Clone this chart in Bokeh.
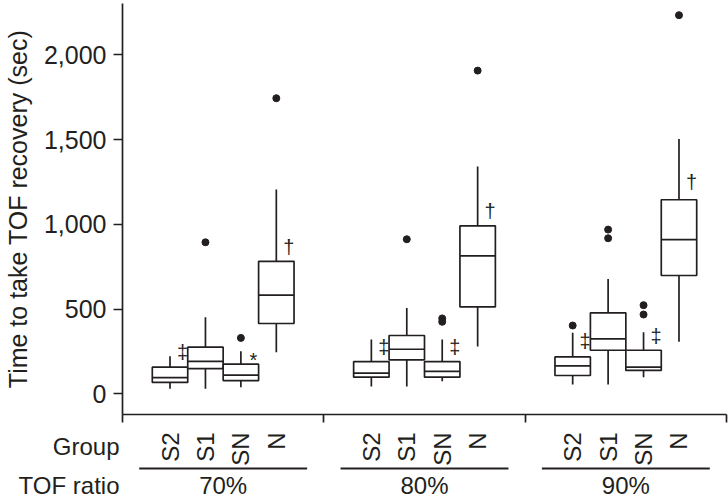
import math
from bokeh.plotting import figure
from bokeh.models import Range1d, FixedTicker, NumeralTickFormatter, ColumnDataSource
from bokeh.layouts import column
from bokeh.embed import file_html
from bokeh.resources import INLINE
from bokeh.core.properties import value

# ---------------- data ----------------
ratios = ["70%", "80%", "90%"]
groups = ["S2", "S1", "SN", "N"]

lower_whisker = [[30, 30, 39, 245], [43, 43, 74, 279], [55, 55, 98, 307]]
q1 = [[67, 149, 78, 415], [98, 200, 98, 513], [108, 257, 138, 698]]
medians = [[96, 191, 110, 582], [122, 263, 132, 814], [165, 324, 157, 910]]
q3 = [[157, 275, 175, 782], [190, 344, 190, 991], [218, 478, 257, 1145]]
upper_whisker = [[222, 452, 251, 1205], [320, 507, 320, 1341], [360, 678, 363, 1504]]
outliers = [[[], [894], [330], [1744]],
            [[], [912], [445, 425], [1907]],
            [[403], [969, 918], [523, 468], [2234]]]
sig_marks = [["‡", "", "*", "†"], ["‡", "", "‡", "†"], ["‡", "", "‡", "†"]]
sig_y = [[245, 0, 202, 869], [275, 0, 275, 1081], [314, 0, 344, 1248]]

y_ticks = [0, 500, 1000, 1500, 2000]
y_title = "Time to take TOF recovery (sec)"
row_titles = ["Group", "TOF ratio"]

# ---------------- layout constants ----------------
INK = "#231f20"
FONT = "Liberation Sans"
BOX_W = 0.176
W = 728
MAIN_H = 426
BOT_H = 74

# ---------------- derived columns ----------------
xs, lw, b1, md, b3, uw = [], [], [], [], [], []
ox, oy = [], []
mx, my, mt = [], [], []
lab_x, lab_t = [], []
for i in range(len(ratios)):
    for k in range(len(groups)):
        cx = i + 0.5 + (k - 1.5) * BOX_W
        xs.append(cx)
        lw.append(lower_whisker[i][k]); b1.append(q1[i][k]); md.append(medians[i][k])
        b3.append(q3[i][k]); uw.append(upper_whisker[i][k])
        for v in outliers[i][k]:
            ox.append(cx); oy.append(v)
        if sig_marks[i][k]:
            mx.append(cx + 0.062); my.append(sig_y[i][k]); mt.append(sig_marks[i][k])
        lab_x.append(cx); lab_t.append(groups[k])

box_src = ColumnDataSource(dict(
    x=xs, lw=lw, q1=b1, med=md, q3=b3, uw=uw,
    left=[x - BOX_W / 2 for x in xs], right=[x + BOX_W / 2 for x in xs]))

# ---------------- main figure ----------------
xr = Range1d(0, 3)
p = figure(width=W, height=MAIN_H, output_backend="svg", toolbar_location=None,
           x_range=xr, y_range=Range1d(-122, 2303),
           min_border_left=122, min_border_right=2, min_border_top=3,
           min_border_bottom=12)
p.outline_line_color = None
p.xgrid.visible = False
p.ygrid.visible = False
p.background_fill_color = "white"
p.border_fill_color = "white"

p.segment(x0="x", y0="q3", x1="x", y1="uw", source=box_src, line_color=INK, line_width=1.7)
p.segment(x0="x", y0="lw", x1="x", y1="q1", source=box_src, line_color=INK, line_width=1.7)
p.vbar(x="x", width=BOX_W, bottom="q1", top="q3", source=box_src,
       fill_color="white", line_color=INK, line_width=1.7)
p.segment(x0="left", y0="med", x1="right", y1="med", source=box_src, line_color=INK, line_width=1.7)
p.scatter(x=ox, y=oy, size=7, fill_color=INK, line_color=INK, marker="circle")
p.text(x=mx, y=my, text=mt, text_align="center", text_baseline="middle",
       text_font=value(FONT), text_font_size=value("20px"), text_color=INK)

# y axis
yax = p.yaxis[0]
yax.ticker = FixedTicker(ticks=y_ticks)
yax.formatter = NumeralTickFormatter(format="0,0")
yax.major_tick_out = 9
yax.major_tick_in = 0
yax.minor_tick_line_color = None
yax.axis_line_width = 1.7
yax.axis_line_color = INK
yax.major_tick_line_width = 1.7
yax.major_tick_line_color = INK
yax.major_label_standoff = 7
yax.major_label_text_font = FONT
yax.major_label_text_font_size = "25px"
yax.major_label_text_color = INK
yax.axis_label = y_title
yax.axis_label_text_font = FONT
yax.axis_label_text_font_size = "25px"
yax.axis_label_text_font_style = "normal"
yax.axis_label_text_color = INK
yax.axis_label_standoff = 9

# x axis (section separators only, no labels)
xax = p.xaxis[0]
xax.ticker = FixedTicker(ticks=list(range(len(ratios) + 1)))
xax.major_tick_out = 8
xax.major_tick_in = 0
xax.minor_tick_line_color = None
xax.axis_line_width = 1.7
xax.axis_line_color = INK
xax.major_tick_line_width = 1.7
xax.major_tick_line_color = INK
xax.major_label_text_color = None
xax.major_label_text_font_size = "1px"
xax.major_label_standoff = 0

# ---------------- bottom label strip ----------------
q = figure(width=W, height=BOT_H, output_backend="svg", toolbar_location=None,
           x_range=xr, y_range=Range1d(0, BOT_H), x_axis_type=None,
           min_border_left=122, min_border_right=2, min_border_top=0, min_border_bottom=0)
q.outline_line_color = None
q.xgrid.visible = False
q.ygrid.visible = False
q.background_fill_color = "white"
q.border_fill_color = "white"

qy = q.yaxis[0]
qy.ticker = FixedTicker(ticks=[54, 15])
qy.major_label_overrides = {54: row_titles[0], 15: row_titles[1]}
qy.axis_line_color = None
qy.major_tick_line_color = None
qy.minor_tick_line_color = None
qy.major_tick_out = 0
qy.major_tick_in = 0
qy.major_label_standoff = 3
qy.major_label_text_font = FONT
qy.major_label_text_font_size = "24px"
qy.major_label_text_color = INK

# rotated group names under each box
q.text(x=lab_x, y=[68] * len(lab_x), text=lab_t, angle=math.pi / 2,
       text_align="right", text_baseline="middle",
       text_font=value(FONT), text_font_size=value("24px"), text_color=INK)
# underline per ratio section
q.segment(x0=[i + 0.083 for i in range(len(ratios))], y0=[32] * len(ratios),
          x1=[i + 0.917 for i in range(len(ratios))], y1=[32] * len(ratios),
          line_color=INK, line_width=1.8)
# ratio labels
q.text(x=[i + 0.5 for i in range(len(ratios))], y=[15] * len(ratios), text=ratios,
       text_align="center", text_baseline="middle",
       text_font=value(FONT), text_font_size=value("24px"), text_color=INK)

layout = column(p, q, spacing=0)
open("out.html", "w").write(file_html(layout, INLINE))
